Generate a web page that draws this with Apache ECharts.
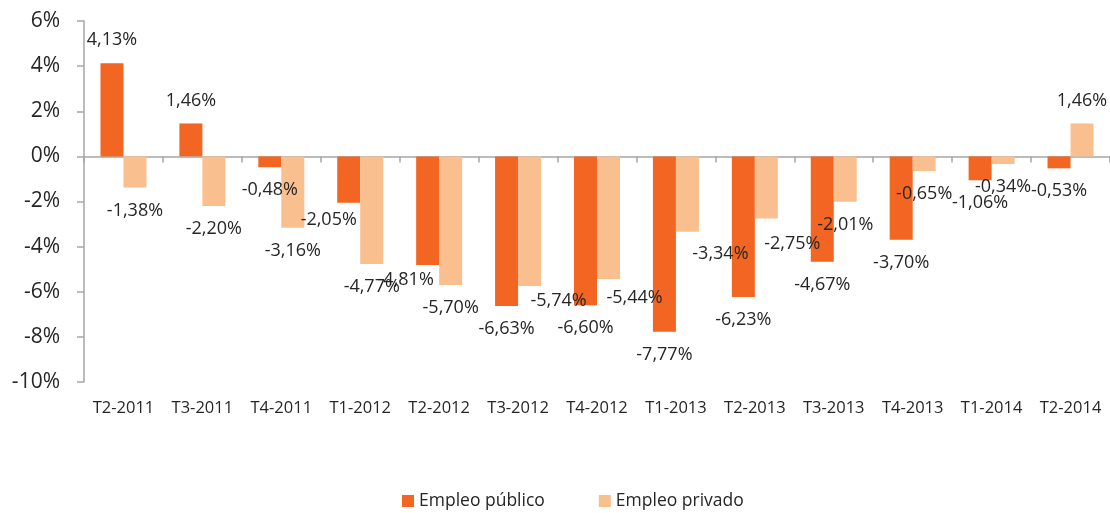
<!DOCTYPE html>
<html>
<head>
<meta charset="utf-8">
<script src="https://cdn.jsdelivr.net/npm/echarts@6/dist/echarts.min.js"></script>
<style>
  html, body { margin: 0; padding: 0; background: #fff; }
  #chart { width: 1110px; height: 513px; }
</style>
</head>
<body>
<div id="chart"></div>
<script>
// quarters
var categories = ['T2-2011', 'T3-2011', 'T4-2011', 'T1-2012', 'T2-2012', 'T3-2012', 'T4-2012',
  'T1-2013', 'T2-2013', 'T3-2013', 'T4-2013', 'T1-2014', 'T2-2014']

// year-on-year change, %
var empleoPublico = [4.13, 1.46, -0.48, -2.05, -4.81, -6.63, -6.60, -7.77, -6.23, -4.67, -3.70, -1.06, -0.53]
var empleoPrivado = [-1.38, -2.20, -3.16, -4.77, -5.70, -5.74, -5.44, -3.34, -2.75, -2.01, -0.65, -0.34, 1.46]

var yTicks = [-10, -8, -6, -4, -2, 0, 2, 4, 6]

var FONT = '"Open Sans", sans-serif'
var TEXT = '#262626'

// a few labels were dragged around in the original
var nudgePublico = { 3: [-20, -6], 4: [-22, -8] }
var nudgePrivado = { 5: [29, -8], 6: [26, -4], 7: [33, -1], 8: [26, 2] }

function fmt(v) {
  return v.toFixed(2).replace('.', ',') + '%'
}

function buildData(values, nudges) {
  return values.map(function (v, i) {
    var item = { value: v, label: { position: v >= 0 ? 'top' : 'bottom' } }
    if (nudges[i]) item.label.offset = nudges[i]
    return item
  })
}

var chart = echarts.init(document.getElementById('chart'))

var barLabel = {
  show: true,
  distance: 14,
  fontFamily: FONT,
  fontSize: 18,
  color: TEXT,
  formatter: function (p) { return fmt(p.value) }
}

var option = {
  animation: false,
  grid: { left: 84, right: -5, top: 21, bottom: 131, containLabel: false },
  legend: {
    left: 402,
    top: 492,
    padding: 0,
    icon: 'rect',
    itemWidth: 12,
    itemHeight: 12,
    itemGap: 54,
    textStyle: { fontFamily: FONT, fontSize: 17.5, color: TEXT },
    data: ['Empleo público', 'Empleo privado']
  },
  xAxis: [
    {
      type: 'category',
      data: categories,
      position: 'bottom',
      axisLine: { show: false, onZero: false },
      axisTick: { show: false },
      axisLabel: { margin: 18, fontFamily: FONT, fontSize: 16.5, color: TEXT, interval: 0 }
    },
    {
      type: 'category',
      data: categories,
      position: 'top',
      axisLine: { show: true, onZero: true, lineStyle: { color: '#a6a6a6', width: 1.5 } },
      axisTick: { show: true, inside: true, length: 6, lineStyle: { color: '#a6a6a6', width: 1.5 } },
      axisLabel: { show: false }
    }
  ],
  yAxis: {
    type: 'value',
    min: yTicks[0],
    max: yTicks[yTicks.length - 1],
    interval: 2,
    splitLine: { show: false },
    axisLine: { show: true, lineStyle: { color: '#a6a6a6', width: 1.5 } },
    axisTick: { show: true, length: 7, lineStyle: { color: '#a6a6a6', width: 1.5 } },
    axisLabel: { formatter: '{value}%', margin: 24, fontFamily: FONT, fontSize: 21, color: TEXT }
  },
  series: [
    {
      name: 'Empleo público',
      type: 'bar',
      xAxisIndex: 0,
      barWidth: 23,
      barGap: '0%',
      itemStyle: { color: '#f26522' },
      label: barLabel,
      data: buildData(empleoPublico, nudgePublico)
    },
    {
      name: 'Empleo privado',
      type: 'bar',
      xAxisIndex: 0,
      barWidth: 23,
      barGap: '0%',
      itemStyle: { color: '#fabf8f' },
      label: barLabel,
      data: buildData(empleoPrivado, nudgePrivado)
    }
  ]
}

chart.setOption(option)
</script>
</body>
</html>
